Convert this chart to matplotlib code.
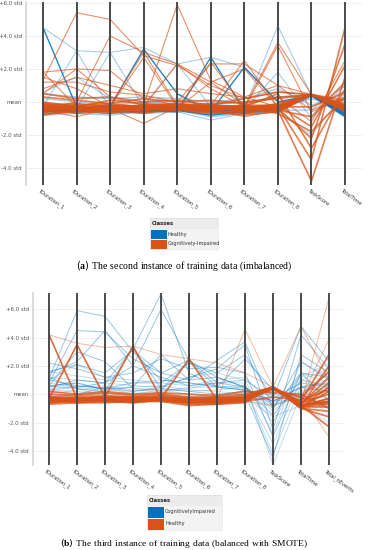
import matplotlib.pyplot as plt
from matplotlib.patches import Rectangle

plt.rcParams['font.family'] = 'DejaVu Sans'
plt.rcParams['mathtext.fontset'] = 'custom'
plt.rcParams['mathtext.rm'] = 'Liberation Serif'
plt.rcParams['mathtext.bf'] = 'Liberation Serif:bold'

BLUE = '#0072BD'
ORANGE = '#D95319'

# ---------------- panel (a) data ----------------
a_features = ['tDuration_1', 'tDuration_2', 'tDuration_3', 'tDuration_4', 'tDuration_5',
              'tDuration_6', 'tDuration_7', 'tDuration_8', 'TaskScore', 'TotalTime']
a_yticks = [6, 4, 2, 0, -2, -4]
a_yticklabels = ['+6.0 std', '+4.0 std', '+2.0 std', 'mean', '-2.0 std', '-4.0 std']

# Healthy (blue)
a_healthy_band = [
    [-0.6, -0.5, -0.5, -0.6, -0.5, -0.8, -0.6, -0.5, 0.4, -0.8],
    [-0.5, -0.4, -0.6, -0.5, -0.4, -0.7, -0.5, -0.4, 0.45, -0.7],
    [-0.7, -0.6, -0.4, -0.7, -0.6, -0.6, -0.7, -0.6, 0.3, -0.6],
    [-0.3, -0.3, -0.5, -0.4, -0.3, -0.5, -0.4, -0.3, 0.2, -0.5],
    [0.2, 0.0, -0.2, 0.0, -0.1, -0.2, 0.0, 0.3, 0.4, 0.0],
    [-0.8, -0.7, -0.8, -0.6, -0.5, -0.9, -0.7, -0.6, 0.45, -0.4],
    [0.5, 0.3, 0.2, 0.3, 0.2, 0.0, 0.2, 0.8, -0.2, 0.5],
    [-0.4, -0.6, -0.7, -0.5, -0.5, -0.6, -0.6, -0.5, -0.5, 1.0],
]
a_healthy_peaks = [
    [4.5, 3.1, 3.0, 3.3, 2.3, 2.7, 2.1, 0.0, 0.4, -0.6],
    [-0.3, 3.1, -0.4, -0.5, -0.4, -0.7, -0.6, -0.5, 0.45, -0.7],
    [-0.3, -0.4, 3.0, -0.3, -0.4, -0.5, -0.5, -0.4, 0.4, -0.6],
    [-0.4, -0.5, -0.4, -0.5, -0.5, -0.5, -0.4, 4.6, 0.4, -0.5],
    [0.6, 1.5, 0.2, -0.2, 2.3, -0.3, -0.5, 1.8, -1.0, 1.0],
    [-0.5, -0.6, -0.7, -0.6, -0.6, -1.1, -0.7, -0.5, -2.0, 0.5],
]
a_healthy_strong = [
    [4.5, -0.3, -0.3, -0.4, -0.4, -0.5, -0.5, -0.4, 0.4, -0.8],
    [-0.5, -0.4, -0.3, 3.2, 0.5, -0.6, -0.5, -0.4, 0.4, -0.8],
    [-0.6, -0.5, -0.5, -0.5, -0.6, 2.7, -0.5, -0.5, 0.4, -0.7],
    [-0.5, -0.6, -0.5, -0.5, -0.4, -0.6, 2.1, 0.0, 0.4, -0.6],
    [-0.6, -0.5, -0.6, -0.6, -0.5, -0.8, -0.6, -0.5, 0.4, -0.9],
]

# Cognitively-Impaired (orange)
a_impaired_band = [
    [-0.5, -0.3, -0.4, -0.3, -0.2, -0.4, -0.5, -0.3, 0.45, -0.4],
    [-0.3, -0.4, -0.2, -0.4, -0.3, -0.2, -0.3, -0.4, 0.45, -0.2],
    [-0.6, -0.5, -0.5, -0.5, -0.4, -0.6, -0.6, -0.5, 0.45, -0.5],
    [-0.2, -0.1, -0.3, -0.2, -0.1, -0.3, -0.2, -0.2, 0.45, -0.1],
    [-0.4, -0.2, -0.6, -0.3, -0.3, -0.5, -0.4, -0.1, 0.4, -0.3],
    [0.0, -0.3, 0.1, -0.1, -0.2, -0.1, 0.0, 0.2, 0.45, -0.6],
    [-0.7, -0.6, -0.4, -0.6, -0.5, -0.7, -0.5, -0.6, 0.45, 0.1],
    [0.3, 0.1, -0.1, 0.2, 0.0, 0.1, -0.1, 0.3, 0.4, -0.3],
    [-0.1, -0.4, -0.3, -0.5, -0.3, -0.4, -0.3, -0.3, -0.3, 0.6],
    [-0.5, -0.3, -0.4, -0.2, -0.4, -0.3, -0.6, -0.5, -0.9, 1.2],
    [-0.3, -0.5, -0.2, -0.4, -0.2, -0.5, -0.4, -0.2, -1.5, 2.2],
    [-0.4, -0.2, -0.5, -0.3, -0.3, -0.2, -0.3, -0.4, -2.2, 3.5],
    [-0.2, -0.4, -0.3, -0.3, -0.4, -0.4, -0.5, -0.3, -3.5, 4.5],
    [-0.6, -0.3, -0.4, -0.5, -0.3, -0.3, -0.4, -0.5, -4.8, 1.5],
    [-0.3, -0.3, -0.3, -0.2, -0.2, -0.3, -0.3, 0.5, -2.8, 0.8],
    [-0.8, -0.5, -0.7, -0.4, -0.4, -0.6, -0.8, -0.6, 0.45, -0.4],
    [0.5, 0.2, 0.3, 0.0, 0.1, -0.2, 0.2, 0.6, 0.45, -0.2],
    [-0.4, -0.7, -0.5, -0.7, -0.4, -0.5, -0.7, -0.4, 0.45, -0.3],
    [-0.5, -0.4, -0.6, -0.4, -0.5, -0.4, -0.2, -0.7, -1.8, 0.3],
    [-0.1, -0.2, -0.1, -0.3, -0.2, -0.5, -0.3, -0.2, 0.45, -0.5],
]
a_impaired_peaks = [
    [1.8, -0.3, -0.2, -0.3, -0.3, -0.4, -0.3, -0.4, 0.45, -0.3],
    [1.8, 2.0, 1.9, 0.2, -0.2, -0.3, -0.4, -0.3, 0.45, -0.2],
    [1.3, 5.4, 5.0, 2.8, 2.2, 1.0, 0.2, 0.6, 0.4, -0.4],
    [-0.3, -0.4, -0.3, -0.2, 5.9, 1.3, 0.3, -0.3, 0.45, -0.3],
    [-0.4, 0.0, 4.0, 3.0, 2.3, 0.8, -0.3, -0.4, 0.45, -0.5],
    [-0.3, -0.4, -0.3, 2.7, -0.3, -0.4, -0.3, -0.2, 0.45, -0.2],
    [-0.5, -0.3, -0.2, 3.0, -0.2, -0.5, -0.4, -0.3, 0.45, -0.4],
    [-0.4, -0.3, -0.4, -0.3, -0.4, 2.4, -0.3, -0.4, 0.45, -0.3],
    [-0.3, -0.5, -0.3, -0.4, -0.3, -0.2, 2.5, -0.3, 0.45, -0.5],
    [-0.4, -0.4, -0.5, -0.3, -0.3, -0.4, -0.3, 3.6, 0.45, -0.3],
    [-0.3, -0.4, -0.4, -0.3, -0.4, -0.3, -0.4, 3.4, -0.6, 0.2],
    [0.5, 2.0, 0.3, -0.2, -0.2, -0.3, -0.4, -0.3, 0.45, -0.4],
    [1.5, 0.8, -0.3, -0.3, -0.4, 1.2, 2.0, -0.3, 0.45, -0.2],
    [-0.2, -0.3, -0.3, -0.3, 2.3, 1.2, -0.2, 0.3, -1.2, 2.5],
    [1.2, 1.2, 0.6, 0.4, 0.0, 2.3, 2.3, 1.0, -0.5, 0.3],
    [-0.5, -0.9, -0.4, -1.3, -0.3, -0.4, -0.9, -0.5, 0.45, -0.5],
    [0.8, 1.5, 1.0, 0.5, 0.8, 0.5, 0.3, 1.0, 0.45, -0.4],
]

# ---------------- panel (b) data ----------------
b_features = ['tDuration_1', 'tDuration_2', 'tDuration_3', 'tDuration_4', 'tDuration_5',
              'tDuration_6', 'tDuration_7', 'tDuration_8', 'TaskScore', 'TotalTime',
              'Total_nEvents']
b_yticks = [6, 4, 2, 0, -2, -4]
b_yticklabels = ['+6.0 std', '+4.0 std', '+2.0 std', 'mean', '-2.0 std', '-4.0 std']

# CognitivelyImpaired (blue)
b_impaired_band = [
    [-0.1, 0.0, -0.2, -0.3, -0.2, -0.3, -0.2, -0.1, 0.0, -0.3, -0.2],
    [0.3, 0.2, 0.0, 0.1, 0.0, -0.2, 0.0, 0.2, -0.6, 0.2, 0.5],
    [0.5, 0.8, 0.3, 0.2, 0.4, 0.2, 0.3, 0.5, -1.2, 0.5, 1.0],
    [-0.3, -0.2, -0.4, -0.2, -0.3, -0.5, -0.6, -0.3, -0.4, -0.5, -0.6],
    [0.8, 0.5, 0.6, 0.3, 0.2, 0.5, 0.5, 0.6, -2.0, 1.5, 0.8],
    [1.2, 1.0, 0.8, 0.6, 0.5, 1.2, 1.5, 1.0, -2.8, 2.3, 1.2],
    [0.0, 0.3, 0.5, 0.0, 0.3, 0.0, -0.2, 0.3, -3.5, 1.0, 1.8],
    [1.6, 1.3, 1.0, 0.8, 1.0, 0.8, 0.6, 0.4, -4.2, 0.6, -1.5],
    [0.6, 0.4, -0.1, -0.2, 0.2, 0.4, 0.8, 0.8, -5.0, 0.0, -1.0],
    [-0.2, -0.3, -0.3, -0.4, -0.1, -0.2, -0.4, -0.2, -1.6, -0.8, -2.0],
    [0.4, 0.6, 0.4, 0.5, 0.6, 0.3, 0.2, 0.0, 0.2, -0.1, 0.3],
    [1.0, 2.1, 1.2, 1.0, 0.8, 0.6, 1.0, 1.2, -0.8, 1.2, 2.2],
]
b_impaired_peaks = [
    [1.1, 5.9, 5.5, 3.0, 1.0, 0.8, 0.5, 0.3, -0.5, 0.5, 0.8],
    [0.8, 4.5, 4.4, 2.5, 1.5, 1.0, 1.2, 0.5, -1.0, 1.5, 1.2],
    [1.5, 2.3, 4.5, 2.0, 1.2, 0.6, 0.8, 1.0, -0.3, 0.8, 0.5],
    [0.5, 1.0, 0.8, 3.2, 7.1, 1.5, 0.5, 0.3, -0.5, 0.5, 0.2],
    [0.3, 0.5, 0.8, 2.0, 6.0, 2.4, 0.8, 0.5, -1.5, 1.0, 0.6],
    [1.6, 2.1, 1.5, 3.1, 1.5, 2.4, 1.2, 0.5, -0.8, 0.0, 1.5],
    [0.6, 0.8, 0.3, 0.5, 2.8, 1.0, 2.4, 3.7, -1.0, 2.3, 1.0],
    [-0.2, 0.0, 0.5, 0.2, 0.5, 1.2, 1.8, 3.5, -2.5, 4.2, 1.8],
    [1.0, 0.6, 0.4, 0.8, 0.8, 2.2, 1.5, 2.8, -0.3, 4.8, 2.3],
    [2.2, 1.8, 1.2, 1.5, 2.5, 1.8, 1.9, 1.5, -3.0, 1.5, -0.5],
    [1.2, 0.4, 0.2, 3.3, 0.4, 0.2, 0.0, 0.0, -4.5, 2.8, 1.5],
    [0.6, 3.0, 2.3, 0.4, 0.3, 2.3, 0.5, 2.5, 0.3, -0.2, -0.8],
]

# Healthy (orange)
b_healthy_band = [
    [-0.4, -0.4, -0.3, -0.5, -0.3, -0.5, -0.4, -0.3, 0.5, -0.8, -0.5],
    [-0.3, -0.3, -0.2, -0.3, -0.2, -0.4, -0.5, -0.2, 0.5, -0.9, 0.5],
    [-0.5, -0.5, -0.4, -0.4, -0.4, -0.6, -0.6, -0.4, 0.5, -1.0, -1.2],
    [-0.2, -0.2, -0.1, -0.2, -0.1, -0.3, -0.3, -0.1, 0.5, -0.7, 1.2],
    [-0.6, -0.4, -0.5, -0.6, -0.4, -0.7, -0.7, -0.5, 0.45, -0.9, -0.9],
    [-0.3, -0.5, -0.4, -0.3, -0.3, -0.4, -0.2, -0.3, 0.5, -0.6, 0.0],
    [-0.7, -0.6, -0.6, -0.5, -0.5, -0.8, -0.7, -0.6, 0.5, -1.0, -1.6],
    [0.0, -0.1, 0.1, -0.1, 0.0, -0.2, -0.2, 0.0, 0.5, -0.8, 2.0],
    [-0.4, -0.3, -0.5, -0.4, -0.3, -0.5, -0.4, -0.4, 0.4, -0.5, 2.8],
    [-0.5, -0.4, -0.3, -0.6, -0.4, -0.6, -0.5, -0.3, 0.5, -0.9, -0.3],
    [-0.2, -0.3, -0.2, -0.2, -0.2, -0.3, -0.3, -0.2, 0.5, -0.7, 0.8],
    [-0.6, -0.5, -0.4, -0.5, -0.5, -0.6, -0.6, -0.5, 0.5, -0.8, -2.3],
    [-0.3, -0.4, -0.4, -0.4, -0.2, -0.4, -0.4, -0.3, 0.3, -0.2, 1.6],
    [-0.5, -0.3, -0.3, -0.3, -0.4, -0.5, -0.6, -0.4, 0.5, -0.9, -0.7],
    [0.2, 0.0, 0.2, 0.0, 0.1, 0.0, -0.1, 0.2, 0.1, 0.0, -1.0],
    [-0.4, -0.6, -0.5, -0.5, -0.3, -0.6, -0.5, -0.5, -0.2, -0.4, 0.3],
]
b_healthy_peaks = [
    [4.2, 3.6, 3.3, 3.4, 2.8, 2.5, 2.2, 1.5, 0.5, -0.5, 0.5],
    [-0.4, -0.3, -0.4, -0.3, -0.4, -0.5, -0.4, 4.6, 0.5, -0.7, 0.5],
    [-0.5, -0.4, -0.3, -0.4, -0.3, -0.5, -0.4, -0.4, 0.5, 4.8, 1.0],
    [-0.3, -0.4, -0.3, -0.3, -0.4, -0.5, -0.5, -0.3, 0.5, -0.6, 6.8],
    [-0.4, -0.3, -0.4, -0.4, -0.3, -0.4, -0.6, -0.4, 0.5, -0.3, 3.9],
    [-0.3, -0.4, -0.3, -0.5, -0.3, -0.5, -0.4, -0.5, -0.8, -0.2, -3.0],
]
b_healthy_strong = [
    [4.2, -0.3, -0.3, -0.3, -0.3, -0.4, -0.4, -0.3, 0.5, -0.8, -0.5],
    [-0.3, 3.5, -0.2, -0.3, -0.3, -0.4, -0.5, -0.3, 0.5, -0.8, -0.3],
    [-0.4, -0.3, -0.2, 3.4, -0.3, -0.5, -0.4, -0.4, 0.5, -0.9, 0.2],
    [-0.3, -0.4, -0.3, -0.3, -0.3, 2.5, -0.4, -0.3, 0.5, -0.8, -0.6],
]

W, H = 368, 550


def fx(x):
    return x / W


def fy(y):
    return 1 - y / H


def draw_panel(ax, features, yticks, yticklabels, layers, ylim, xpad_left, xpad_right):
    xs = list(range(len(features)))
    for rows, color, lw, alpha in layers:
        for r in rows:
            ax.plot(xs, r, color=color, lw=lw, alpha=alpha, solid_joinstyle='miter')
    for x in xs:
        ax.plot([x, x], ylim, color='#4a4a4a', lw=1.4, zorder=10)
    ax.set_xlim(-xpad_left, len(features) - 1 + xpad_right)
    ax.set_ylim(*ylim)
    ax.set_yticks(yticks)
    ax.set_yticklabels(yticklabels, fontsize=3.9, color='#555555')
    ax.tick_params(axis='y', length=0, pad=3)
    ax.set_xticks([])
    ax.grid(axis='y', color='#eeeeee', lw=0.6)
    ax.set_axisbelow(True)
    for s in ['top', 'right', 'bottom']:
        ax.spines[s].set_visible(False)
    ax.spines['left'].set_color('#d4d4d4')
    ax.spines['left'].set_linewidth(1.2)
    for x, name in zip(xs, features):
        ax.annotate(name, xy=(x, ylim[0]), xytext=(-1.5, -2.5), textcoords='offset points',
                    rotation=-36, rotation_mode='anchor', ha='left', va='top',
                    fontsize=3.7, color='#333333')


def draw_legend(fig, x0, y0, x1, rows_y, entries):
    # header
    hy0, hy1 = rows_y[0], rows_y[1]
    fig.add_artist(Rectangle((fx(x0), fy(hy1)), fx(x1) - fx(x0), fy(hy0) - fy(hy1),
                             transform=fig.transFigure, color='#ececec', lw=0))
    fig.text(fx(x0 + 2), fy((hy0 + hy1) / 2), 'Classes', fontsize=3.8, fontweight='bold',
             va='center', ha='left', color='#222222')
    for i, (label, color) in enumerate(entries):
        ry0, ry1 = rows_y[i + 1], rows_y[i + 2]
        fig.add_artist(Rectangle((fx(x0), fy(ry1)), fx(x1) - fx(x0), fy(ry0) - fy(ry1),
                                 transform=fig.transFigure, color='#f3f3f3', lw=0))
        fig.add_artist(Rectangle((fx(x0 + 1), fy(ry1 - 0.5)), fx(16), fy(ry0 + 0.5) - fy(ry1 - 0.5),
                                 transform=fig.transFigure, color=color, lw=0))
        fig.text(fx(x0 + 18), fy((ry0 + ry1) / 2), label, fontsize=3.6,
                 va='center', ha='left', color='#333333')
    fig.add_artist(Rectangle((fx(x0), fy(rows_y[-1])), fx(x1) - fx(x0),
                             fy(y0) - fy(rows_y[-1]), transform=fig.transFigure,
                             fill=False, edgecolor='#dddddd', lw=0.4))


fig = plt.figure(figsize=(W / 100, H / 100), dpi=100)

# panel (a): axes from x=26..362 px, y=2..184.5 px
ax1 = fig.add_axes([fx(26), fy(184.5), fx(362) - fx(26), fy(2) - fy(184.5)])
draw_panel(ax1, a_features, a_yticks, a_yticklabels,
           [(a_healthy_band, BLUE, 1.0, 0.35),
            (a_healthy_peaks, BLUE, 0.8, 0.35),
            (a_healthy_strong, BLUE, 1.0, 0.85),
            (a_impaired_band, ORANGE, 1.2, 0.75),
            (a_impaired_peaks, ORANGE, 0.8, 0.65)],
           (-5, 6.05), (43 - 26) / 33.56, (362 - 345) / 33.56)

draw_legend(fig, 150, 218, 218, [218, 229, 239, 249],
            [('Healthy', BLUE), ('Cognitively-Impaired', ORANGE)])
fig.text(0.5, fy(266), r'($\mathbf{a}$)$\rm\ The\ second\ instance\ of\ training\ data\ (imbalanced)$',
         ha='center', va='center', fontsize=7.0)

# panel (b): axes from x=33..343 px, y=293..465 px
ax2 = fig.add_axes([fx(33), fy(465), fx(343) - fx(33), fy(293) - fy(465)])
draw_panel(ax2, b_features, b_yticks, b_yticklabels,
           [(b_impaired_band, BLUE, 0.7, 0.25),
            (b_impaired_peaks, BLUE, 0.7, 0.4),
            (b_healthy_peaks, ORANGE, 0.7, 0.4),
            (b_healthy_band, ORANGE, 1.3, 0.75),
            (b_healthy_strong, ORANGE, 1.2, 0.85)],
           (-5, 7.15), (49 - 33) / 28.0, (343 - 329) / 28.0)

draw_legend(fig, 147, 495, 222, [495, 506, 518, 530],
            [('CognitivelyImpaired', BLUE), ('Healthy', ORANGE)])
fig.text(0.5, fy(543), r'($\mathbf{b}$)$\rm\ The\ third\ instance\ of\ training\ data\ (balanced\ with\ SMOTE)$',
         ha='center', va='center', fontsize=6.8)

fig.savefig('out.png', dpi=100)
